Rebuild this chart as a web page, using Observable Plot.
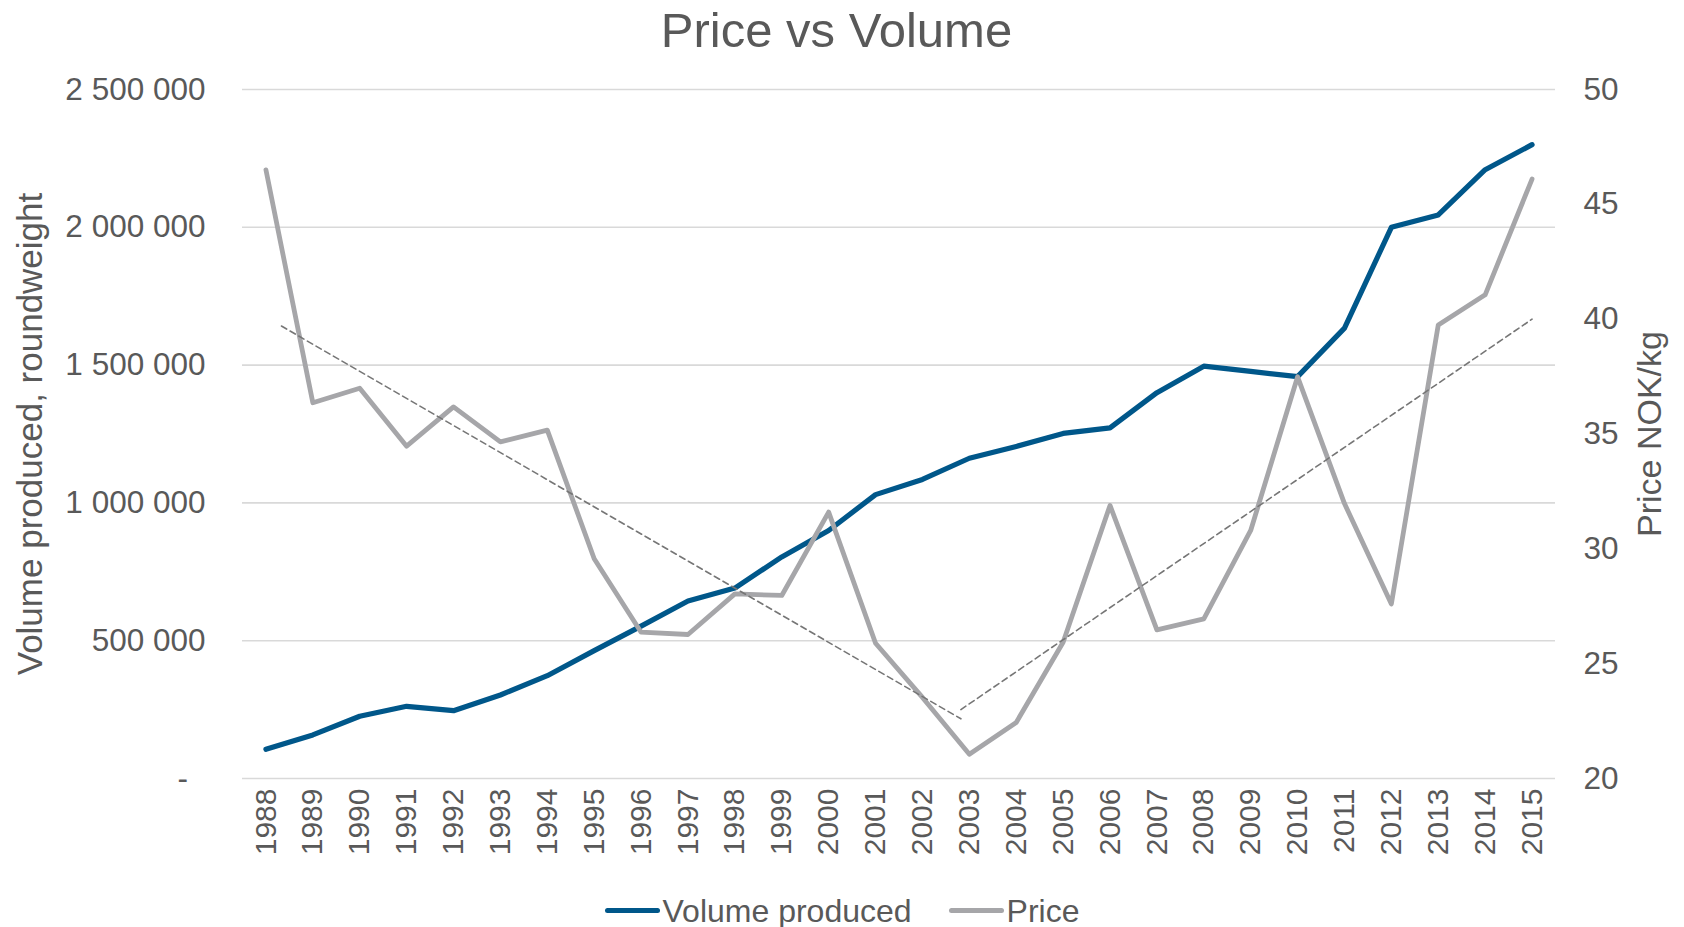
<!DOCTYPE html>
<html>
<head>
<meta charset="utf-8">
<script src="https://cdn.jsdelivr.net/npm/d3@7"></script>
<script src="https://cdn.jsdelivr.net/npm/@observablehq/plot@0.6"></script>
<style>
  html, body { margin: 0; padding: 0; background: #ffffff; }
  #wrap { width: 1684px; height: 927px; position: relative; overflow: hidden; font-family: "Liberation Sans", Arial, sans-serif; color: #595959; }
  #title { height: 60px; line-height: 60px; font-size: 49px; text-align: center; padding-right: 11px; box-sizing: border-box; }
  #legend { height: 47px; box-sizing: border-box; padding-top: 14px; display: flex; justify-content: center; align-items: center; font-size: 32px; line-height: 32px; }
  .sw { width: 55px; height: 5px; border-radius: 3px; margin-right: 3px; }
  .item { display: flex; align-items: center; }
  svg { display: block; }
</style>
</head>
<body>
<div id="wrap">
  <div id="title">Price vs Volume</div>
  <div id="chart"></div>
  <div id="legend"></div>
</div>
<script>
// ---- data ----
const years = [1988, 1989, 1990, 1991, 1992, 1993, 1994, 1995, 1996, 1997, 1998, 1999, 2000, 2001,
               2002, 2003, 2004, 2005, 2006, 2007, 2008, 2009, 2010, 2011, 2012, 2013, 2014, 2015];
const volumeProduced = [106000, 158000, 226000, 262000, 246000, 303000, 373000, 464000, 553000, 644000,
                        691000, 804000, 900000, 1030000, 1085000, 1162000, 1205000, 1252000, 1272000, 1400000,
                        1496000, 1477000, 1458000, 1634000, 2000000, 2045000, 2209000, 2300000];
const priceNOK = [46.5, 36.36, 36.99, 34.47, 36.18, 34.66, 35.17, 29.57, 26.37, 26.27,
                  28.04, 27.97, 31.6, 25.89, 23.53, 21.06, 22.44, 25.93, 31.89, 26.47,
                  26.95, 30.8, 37.49, 31.97, 27.6, 39.75, 41.06, 46.1];
const trendYears = [1988.33, 2002.82, 2002.82, 2015];
const trendPrices = [39.7, 22.6, 23.0, 40.0];
const trendSegments = ["falling", "falling", "rising", "rising"];
const volumeTicks = [0, 500000, 1000000, 1500000, 2000000, 2500000];
const priceTicks = [20, 25, 30, 35, 40, 45, 50];
const seriesNames = ["Volume produced", "Price"];
const titleText = "Price vs Volume";
const leftAxisTitle = "Volume produced, roundweight";
const rightAxisTitle = "Price NOK/kg";

// ---- styles ----
const colors = {volume: "#00578a", price: "#a6a6a9", trend: "#767676", grid: "#d9d9d9", text: "#595959"};

// secondary axis mapping (price -> volume units)
const pMin = priceTicks[0], pMax = priceTicks[priceTicks.length - 1];
const vMax = volumeTicks[volumeTicks.length - 1];
const toY = p => (p - pMin) / (pMax - pMin) * vMax;
const fromY = v => pMin + v / vMax * (pMax - pMin);

const rows = years.map((y, i) => ({year: y, volume: volumeProduced[i], price: toY(priceNOK[i])}));
const trend = trendYears.map((y, i) => ({year: y, price: toY(trendPrices[i]), seg: trendSegments[i]}));

const loc = d3.formatLocale({decimal: ",", thousands: " ", grouping: [3], currency: ["", ""]});
const fmtVol = loc.format(",");
const leftFmt = d => d === 0 ? "-\u2007" : fmtVol(d);

document.getElementById("title").textContent = titleText;

const chart = Plot.plot({
  width: 1684,
  height: 820,
  marginTop: 29,
  marginBottom: 102,
  marginLeft: 242,
  marginRight: 129,
  style: {fontFamily: '"Liberation Sans", Arial, sans-serif', color: colors.text, background: "#ffffff", overflow: "visible"},
  x: {domain: [years[0] - 0.5, years[years.length - 1] + 0.5]},
  y: {domain: [0, vMax]},
  marks: [
    Plot.gridY(volumeTicks, {stroke: colors.grid, strokeOpacity: 1, strokeWidth: 1.6}),
    Plot.axisY({anchor: "left", ticks: volumeTicks, tickSize: 0, tickPadding: 37, tickFormat: leftFmt, fontSize: 31.5, label: null}),
    Plot.axisY({anchor: "right", ticks: priceTicks.map(toY), tickSize: 0, tickPadding: 28, tickFormat: d => String(Math.round(fromY(d))), fontSize: 31.5, label: null}),
    Plot.axisX({ticks: years, tickFormat: d => String(d), tickRotate: -90, tickSize: 0, tickPadding: 10, fontSize: 30, label: null}),
    Plot.text([leftAxisTitle], {frameAnchor: "left", text: d => d, rotate: -90, textAnchor: "middle", dx: -212, fontSize: 35, fill: colors.text}),
    Plot.text([rightAxisTitle], {frameAnchor: "right", text: d => d, rotate: -90, textAnchor: "middle", dx: 95, fontSize: 34, fill: colors.text}),
    Plot.line(rows, {x: "year", y: "volume", stroke: colors.volume, strokeWidth: 5.2, strokeLinejoin: "round", strokeLinecap: "round"}),
    Plot.line(rows, {x: "year", y: "price", stroke: colors.price, strokeWidth: 4.8, strokeLinejoin: "round", strokeLinecap: "round"}),
    Plot.line(trend, {x: "year", y: "price", z: "seg", stroke: colors.trend, strokeWidth: 1.6, strokeDasharray: "6,4"})
  ]
});
document.getElementById("chart").appendChild(chart);

// legend
const legend = document.getElementById("legend");
[[seriesNames[0], colors.volume], [seriesNames[1], colors.price]].forEach(([name, c], i) => {
  const item = document.createElement("div");
  item.className = "item";
  if (i > 0) item.style.marginLeft = "37px";
  const sw = document.createElement("div");
  sw.className = "sw";
  sw.style.background = c;
  const t = document.createElement("span");
  t.textContent = name;
  item.appendChild(sw);
  item.appendChild(t);
  legend.appendChild(item);
});
</script>
</body>
</html>
